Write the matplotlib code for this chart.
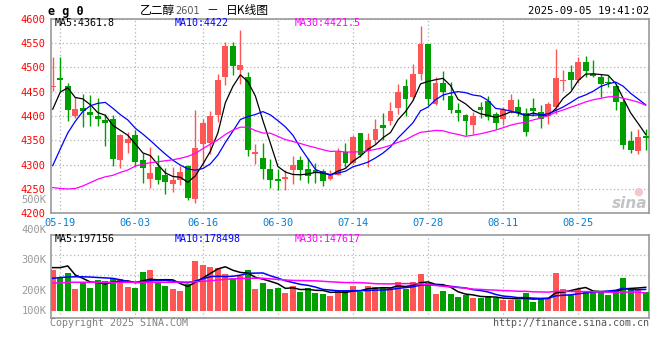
import numpy as np
import pandas as pd
import matplotlib
matplotlib.use('Agg')
from matplotlib import pyplot as plt

# 乙二醇2601 日K (2025-05-16 .. 2025-09-05)
open_ = [4460, 4478, 4461, 4400, 4417, 4409, 4400, 4392, 4394, 4310,
         4345, 4361, 4310, 4270, 4295, 4278, 4260, 4268, 4298, 4229,
         4343, 4345, 4403, 4481, 4543, 4495, 4481, 4322, 4314, 4291,
         4271, 4271, 4290, 4310, 4292, 4288, 4286, 4270, 4279, 4327,
         4304, 4366, 4329, 4350, 4382, 4389, 4417, 4461, 4440, 4487,
         4548, 4424, 4468, 4442, 4413, 4402, 4381, 4418, 4430, 4404,
         4393, 4410, 4418, 4406, 4416, 4408, 4401, 4418, 4471, 4490,
         4475, 4512, 4487, 4481, 4469, 4461, 4428, 4348, 4329, 4358]
high = [4521, 4522, 4468, 4440, 4445, 4444, 4437, 4405, 4402, 4364,
        4367, 4372, 4324, 4337, 4319, 4294, 4295, 4298, 4300, 4413,
        4394, 4410, 4487, 4553, 4553, 4577, 4490, 4343, 4345, 4311,
        4292, 4288, 4318, 4317, 4314, 4303, 4291, 4288, 4334, 4344,
        4360, 4366, 4365, 4394, 4407, 4429, 4465, 4476, 4507, 4584,
        4548, 4480, 4492, 4469, 4426, 4404, 4408, 4428, 4442, 4408,
        4418, 4446, 4435, 4417, 4437, 4422, 4428, 4538, 4495, 4504,
        4522, 4523, 4516, 4487, 4483, 4465, 4435, 4369, 4374, 4374]
low = [4452, 4452, 4389, 4396, 4377, 4380, 4380, 4338, 4298, 4293,
       4324, 4297, 4262, 4252, 4260, 4239, 4244, 4258, 4228, 4221,
       4298, 4322, 4387, 4463, 4484, 4466, 4317, 4302, 4271, 4253,
       4248, 4247, 4261, 4268, 4262, 4262, 4257, 4268, 4278, 4295,
       4302, 4316, 4296, 4343, 4351, 4381, 4404, 4401, 4433, 4475,
       4423, 4422, 4433, 4406, 4389, 4360, 4362, 4396, 4391, 4374,
       4382, 4407, 4401, 4358, 4399, 4375, 4384, 4404, 4451, 4456,
       4467, 4480, 4480, 4439, 4459, 4413, 4333, 4324, 4322, 4331]
close = [4462, 4475, 4413, 4415, 4411, 4403, 4393, 4386, 4311, 4360,
         4352, 4305, 4293, 4283, 4269, 4265, 4269, 4284, 4232, 4335,
         4385, 4401, 4473, 4543, 4502, 4504, 4331, 4325, 4291, 4268,
         4266, 4274, 4300, 4288, 4276, 4283, 4266, 4281, 4327, 4304,
         4357, 4319, 4351, 4374, 4376, 4410, 4450, 4435, 4487, 4548,
         4435, 4468, 4449, 4413, 4406, 4389, 4401, 4413, 4398, 4385,
         4413, 4433, 4407, 4367, 4411, 4394, 4425, 4478, 4473, 4475,
         4512, 4492, 4482, 4465, 4467, 4428, 4340, 4331, 4357, 4355]
# 成交量 (K)
volume = [338, 279, 310, 180, 236, 187, 256, 247, 270, 263,
          200, 187, 319, 337, 236, 207, 180, 165, 220, 412,
          379, 364, 354, 305, 270, 290, 337, 180, 231, 180,
          190, 149, 203, 159, 190, 149, 143, 124, 173, 173,
          208, 153, 208, 195, 195, 195, 241, 180, 241, 305,
          228, 140, 167, 140, 117, 132, 105, 105, 126, 105,
          90, 90, 90, 146, 72, 107, 105, 312, 180, 134,
          180, 159, 167, 162, 132, 173, 272, 189, 180, 159]

# MA values before enough history is shown
ma5_head = [4414, 4449, 4458, 4438]
ma10_head = [4298, 4332, 4365, 4389, 4409, 4421, 4426, 4428, 4416]
ma30_head = [4253, 4251, 4250, 4251, 4256, 4263, 4270, 4275, 4278, 4284,
             4289, 4297, 4301, 4304, 4306, 4308, 4310, 4313, 4317, 4323,
             4333, 4342, 4351, 4362, 4371, 4377, 4377, 4370, 4365]
vma5_head = [356, 356, 370, 296]
vma10_head = [269, 275, 279, 281, 281, 279, 275, 272, 268]
vma30_head = [230, 230, 236, 236, 236, 236, 236, 236, 236, 236,
              236, 236, 236, 236, 236, 236, 236, 238, 238, 240,
              244, 248, 254, 260, 264, 267, 269, 269, 269]

tick_dates = ['05-19', '06-03', '06-16', '06-30', '07-14', '07-28', '08-11', '08-25']

RED = '#ff5555'
GREEN = '#009f00'
GRID = '#b4b4b4'
FRAME = '#999999'
MONO = 'DejaVu Sans Mono'


def moving_avg(values, n, head):
    s = pd.Series(values, dtype=float).rolling(n).mean()
    s.iloc[:n - 1] = head
    return s.values


def px(x):
    return x / 660


def py(y):
    return 1 - y / 360


days = pd.bdate_range('2025-05-16', '2025-09-05')
days = days[days != pd.Timestamp('2025-06-02')]
day_lbl = [d.strftime('%m-%d') for d in days]
x = np.arange(len(close))
tick_pos = [day_lbl.index(t) for t in tick_dates]

o = np.array(open_, float)
c = np.array(close, float)
up = c >= o
colors = [RED if u else GREEN for u in up]

fig = plt.figure(figsize=(6.6, 3.6), dpi=100)
ax_p = fig.add_axes([px(50.7), py(213.3), px(598.6), (213.3 - 18.7) / 360])
ax_v = fig.add_axes([px(50.7), py(318), px(598.6), (318 - 234.7) / 360])

# candles
ax_p.vlines(x, low, high, colors=colors, lw=1, zorder=3)
body = np.maximum(np.abs(c - o), 1.6)
ax_p.bar(x, body, bottom=np.minimum(o, c), width=0.78, color=colors, lw=0, zorder=4)

ax_p.plot(x, moving_avg(close, 5, ma5_head), color='black', lw=0.9, zorder=5)
ax_p.plot(x, moving_avg(close, 10, ma10_head), color='#0000ff', lw=0.9, zorder=5)
ax_p.plot(x, moving_avg(close, 30, ma30_head), color='#ff00ff', lw=0.9, zorder=5)

xlim = (-0.27, len(x) - 1 + 0.48)
ax_p.set_xlim(*xlim)
ax_p.set_ylim(4200, 4600)
ax_p.set_yticks(range(4200, 4601, 50))
ax_p.set_yticklabels([str(v) for v in range(4200, 4601, 50)], color='red',
                     fontfamily=MONO, fontsize=7.5)
ax_p.set_xticks(tick_pos)
ax_p.set_xticklabels(tick_dates, color='#0a7fd0', fontfamily=MONO, fontsize=7.5)
ax_p.tick_params(length=0, pad=3.5)

# volume
ax_v.bar(x, volume, width=0.8, color=colors, lw=0, zorder=3)
ax_v.plot(x, moving_avg(volume, 5, vma5_head), color='black', lw=1.1, zorder=5)
ax_v.plot(x, moving_avg(volume, 10, vma10_head), color='#0000ff', lw=1.1, zorder=5)
ax_v.plot(x, moving_avg(volume, 30, vma30_head), color='#ff00ff', lw=1.1, zorder=5)
ax_v.set_xlim(*xlim)
ax_v.set_ylim(-57, 626)
ax_v.set_xticks(tick_pos)
ax_v.set_xticklabels([])
ax_v.set_yticks([459, 295])
ax_v.set_yticklabels([])
ax_v.tick_params(length=0)

for ax in (ax_p, ax_v):
    ax.grid(True, color=GRID, linestyle=(0, (1, 2)), lw=0.9)
    ax.set_axisbelow(True)
    for sp in ax.spines.values():
        sp.set_color(FRAME)
        sp.set_linewidth(1.2)

# header
fig.text(px(48), py(11), 'e g 0', fontfamily=MONO, fontweight='bold', fontsize=8.5, va='center')
fig.text(px(140), py(10.5), '乙二醇', fontfamily='Noto Sans CJK SC', fontsize=8.5, va='center')
fig.text(px(175.5), py(11), '2601', fontfamily='DejaVu Sans', color='#555555', fontsize=7, va='center')
fig.text(px(206), py(10.5), '－', fontfamily='Noto Sans CJK SC', fontsize=8.5, va='center')
fig.text(px(226), py(10.5), '日K线图', fontfamily='Noto Sans CJK SC', fontsize=8.5, va='center')
fig.text(px(649), py(11.5), '2025-09-05 19:41:02', fontfamily=MONO, fontsize=7.6,
         ha='right', va='center')

ma_lbls = [('MA5:4361.8', 'black'), ('MA10:4422', '#0000ff'), ('MA30:4421.5', '#ff00ff')]
vma_lbls = [('MA5:197156', 'black'), ('MA10:178498', '#0000ff'), ('MA30:147617', '#ff00ff')]
for k, ((t1, col), (t2, _)) in enumerate(zip(ma_lbls, vma_lbls)):
    fig.text(px(55 + 120 * k), py(23.5), t1, color=col, fontfamily=MONO, fontsize=7.2, va='center')
    fig.text(px(55 + 120 * k), py(238.5), t2, color=col, fontfamily=MONO, fontsize=7.2, va='center')

# volume scale labels
for t, yy in [('500K', 200), ('400K', 230), ('300K', 260), ('200K', 291), ('100K', 311)]:
    fig.text(px(46.5), py(yy), t, color='#999999', fontfamily=MONO, fontsize=7.5,
             ha='right', va='center')

fig.text(px(50), py(323.5), 'Copyright 2025 SINA.COM', color='#808080', fontfamily=MONO,
         fontsize=7.2, va='center')
fig.text(px(649), py(323.5), 'http://finance.sina.com.cn', color='#555555', fontfamily=MONO,
         fontsize=7.2, ha='right', va='center')

# watermark
fig.text(px(647), py(203), 'sina', color='#c4c4c4', fontsize=11, fontweight='bold',
         fontstyle='italic', ha='right', va='center')
fig.text(px(638), py(192), '●', color='#f3c8c8', fontsize=8, ha='center', va='center')

fig.savefig('out.png', dpi=100)
